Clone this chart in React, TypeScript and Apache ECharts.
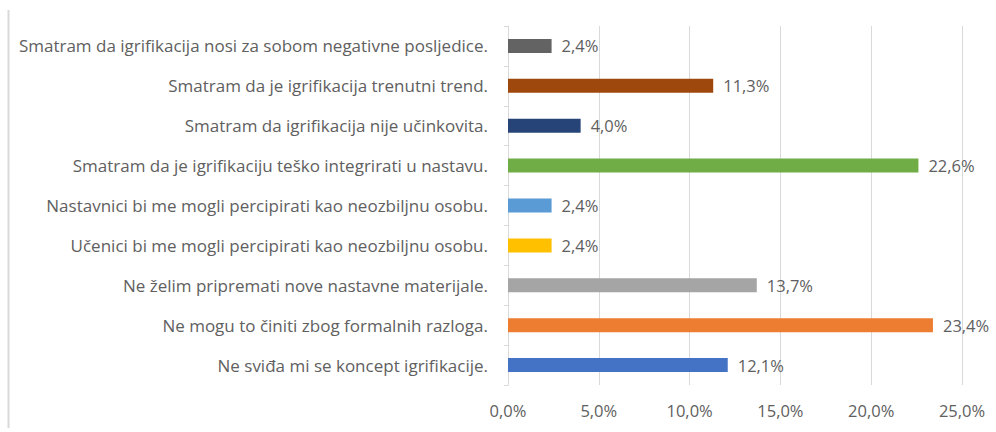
import React, { useEffect, useRef } from "react";
import * as echarts from "echarts";

const categories: string[] = [
  "Ne sviđa mi se koncept igrifikacije.",
  "Ne mogu to činiti zbog formalnih razloga.",
  "Ne želim pripremati nove nastavne materijale.",
  "Učenici bi me mogli percipirati kao neozbiljnu osobu.",
  "Nastavnici bi me mogli percipirati kao neozbiljnu osobu.",
  "Smatram da je igrifikaciju teško integrirati u nastavu.",
  "Smatram da igrifikacija nije učinkovita.",
  "Smatram da je igrifikacija trenutni trend.",
  "Smatram da igrifikacija nosi za sobom negativne posljedice.",
];
const values: number[] = [12.1, 23.4, 13.7, 2.4, 2.4, 22.6, 4.0, 11.3, 2.4];
const barColors: string[] = [
  "#4472C4",
  "#ED7D31",
  "#A5A5A5",
  "#FFC000",
  "#5B9BD5",
  "#70AD47",
  "#264478",
  "#9E480E",
  "#636363",
];

const fmt = (v: number) => v.toFixed(1).replace(".", ",") + "%";

export default function App() {
  const ref = useRef<HTMLDivElement>(null);
  useEffect(() => {
    if (!ref.current) return;
    const chart = echarts.init(ref.current, undefined, { renderer: "svg" });
    const font = "'Open Sans', 'Noto Sans', sans-serif";
    const fs = 16.5;
    const txt = "#606060";
    chart.setOption({
      animation: false,
      backgroundColor: "#ffffff",
      textStyle: { fontFamily: font },
      grid: { left: 508, right: 34, top: 26, bottom: 47, containLabel: false },
      xAxis: {
        type: "value",
        min: 0,
        max: 25,
        interval: 5,
        axisLine: { show: false },
        axisTick: { show: false },
        splitLine: { show: true, lineStyle: { color: "#d9d9d9", width: 1 } },
        axisLabel: {
          color: txt,
          fontSize: fs,
          fontFamily: font,
          margin: 17,
          formatter: (v: number) => fmt(v),
        },
      },
      yAxis: {
        type: "category",
        data: categories,
        axisLine: { show: true, lineStyle: { color: "#d9d9d9" } },
        axisTick: { show: true, length: 4, lineStyle: { color: "#d9d9d9" } },
        axisLabel: {
          color: txt,
          fontSize: 17,
          fontFamily: font,
          margin: 20,
        },
      },
      series: [
        {
          type: "bar",
          data: values.map((v, i) => ({ value: v, itemStyle: { color: barColors[i] } })),
          barWidth: 14,
          label: {
            show: true,
            position: "right",
            distance: 10,
            color: txt,
            fontSize: fs,
            fontFamily: font,
            formatter: (p: any) => fmt(p.value),
          },
        },
      ],
      graphic: [
        {
          type: "line",
          shape: { x1: 8.5, y1: 10, x2: 8.5, y2: 428 },
          style: { stroke: "#d9d9d9", lineWidth: 2 },
        },
      ],
    });
    return () => chart.dispose();
  }, []);
  return (
    <div
      ref={ref}
      style={{ position: "absolute", left: 0, top: 0, width: 996, height: 432 }}
    />
  );
}
